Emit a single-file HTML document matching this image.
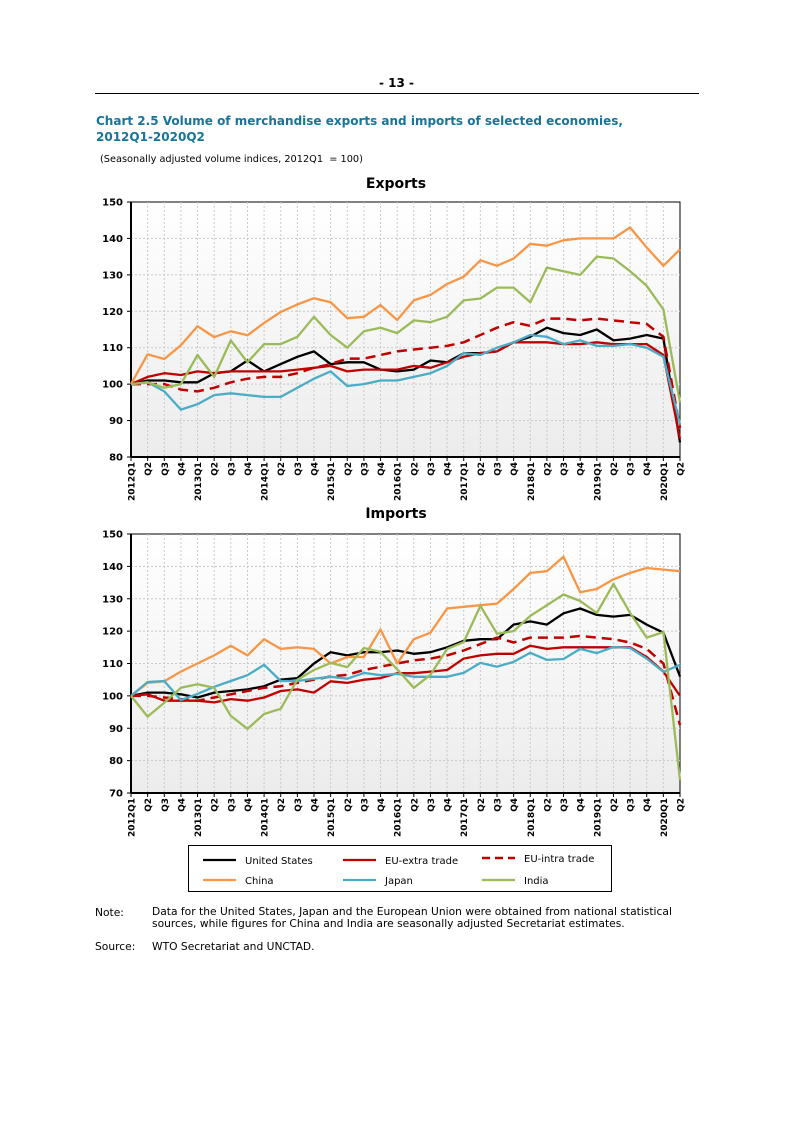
<!DOCTYPE html>
<html><head><meta charset="utf-8"><style>
body{margin:0;background:#fff;font-family:"DejaVu Sans","Liberation Sans",sans-serif;}
#wrap{position:relative;width:793px;height:1122px;overflow:hidden;}
.t{position:absolute;white-space:nowrap;}
</style></head><body>
<div id="wrap">
<div class="t" style="left:379px;top:76px;font-size:12px;font-weight:bold;">- 13 -</div>
<div style="position:absolute;left:95px;top:93px;width:604px;height:1px;background:#000;"></div>
<div class="t" style="left:96px;top:113px;font-size:12px;font-weight:bold;color:#17749a;line-height:16px;">Chart 2.5 Volume of merchandise exports and imports of selected economies,<br>2012Q1-2020Q2</div>
<div class="t" style="left:100px;top:154px;font-size:9.75px;">(Seasonally adjusted volume indices, 2012Q1 &nbsp;= 100)</div>
<svg id="svg" width="793" height="1122" style="position:absolute;left:0;top:0">
<defs><linearGradient id="bg" x1="0" y1="0" x2="0" y2="1"><stop offset="0" stop-color="#ffffff"/><stop offset="1" stop-color="#ececec"/></linearGradient></defs>
</svg>
<div style="position:absolute;left:188px;top:845px;width:422px;height:45px;border:1px solid #000;"></div>
<div class="t" style="left:95px;top:906px;font-size:10.7px;">Note:</div>
<div class="t" style="left:152px;top:906px;font-size:10.7px;line-height:12px;">Data for the United States, Japan and the European Union were obtained from national statistical<br>sources, while figures for China and India are seasonally adjusted Secretariat estimates.</div>
<div class="t" style="left:95px;top:940px;font-size:10.7px;">Source:</div>
<div class="t" style="left:152px;top:940px;font-size:10.7px;">WTO Secretariat and UNCTAD.</div>
</div>
<script>
const categories=["2012Q1","Q2","Q3","Q4","2013Q1","Q2","Q3","Q4","2014Q1","Q2","Q3","Q4","2015Q1","Q2","Q3","Q4","2016Q1","Q2","Q3","Q4","2017Q1","Q2","Q3","Q4","2018Q1","Q2","Q3","Q4","2019Q1","Q2","Q3","Q4","2020Q1","Q2"];
const seriesNames=["United States","EU-extra trade","EU-intra trade","China","Japan","India"];
const expUS=[100,101,101,100.5,100.5,103,103.5,106.5,103.5,105.5,107.5,109,105.5,106,106,104,103.5,104,106.5,106,108.5,108.5,109,111.5,113,115.5,114,113.5,115,112,112.5,113.5,112.5,84];
const expEUx=[100,102,103,102.5,103.5,103,103.5,103.5,103.5,103.5,104,104.5,105,103.5,104,104,104,105,104.5,106,107.5,108.5,109,111.5,111.5,111.5,111,111,111.5,111,111,111,108,85];
const expEUi=[100,100,100,98.5,98,99,100.5,101.5,102,102,103,104.5,105.5,107,107,108,109,109.5,110,110.5,111.5,113.5,115.5,117,116,118,118,117.5,118,117.5,117,116.5,113,88];
const expCN=[100,108.2,106.9,110.7,115.9,112.9,114.5,113.4,116.8,119.8,121.9,123.6,122.5,118.1,118.5,121.7,117.6,123,124.5,127.5,129.5,134,132.5,134.5,138.5,138,139.5,140,140,140,143,137.5,132.5,137];
const expJP=[100,100.5,98,93,94.5,97,97.5,97,96.5,96.5,99,101.5,103.5,99.5,100,101,101,102,103,105,108.5,108,110,111.5,113.5,113,111,112,110.5,110.5,111,110,107.5,89];
const expIN=[100,100.5,99,100,108,102,112,106,111,111,113,118.5,113.5,110,114.5,115.5,114,117.5,117,118.5,123,123.5,126.5,126.5,122.5,132,131,130,135,134.5,131,127,120.5,95];
const impUS=[100,101,101,100.5,99.5,101,101.5,102,103,105,105.5,110,113.5,112.5,113.5,113.5,114,113,113.5,115,117,117.5,117.5,122,123,122,125.5,127,125,124.5,125,122,119.5,106];
const impEUx=[100,100.5,98.5,98.5,98.5,98,99,98.5,99.5,101.5,102,101,104.5,104,105,105.5,107,107,107.5,108,111.5,112.5,113,113,115.5,114.5,115,115,115,115,115,112,107.5,100];
const impEUi=[100,100,99.5,99,98.5,99.5,100.5,101.5,102.5,103,104,105,106,106.5,108,109,110,111,111.5,112.5,114,116,118,116.5,118,118,118,118.5,118,117.5,116.5,114.5,110,91];
const impCN=[100,104,104.5,107.5,110,112.5,115.5,112.5,117.5,114.5,115,114.5,110,112,112,120.5,110,117.5,119.5,127,127.5,128,128.5,133,138,138.5,143,132,133,136,138,139.5,139,138.5];
const impJP=[100,104.3,104.6,98.7,100.6,102.8,104.6,106.4,109.6,104.6,104.6,105.3,105.9,105.3,107.1,106.4,106.8,105.9,105.9,105.9,107.1,110.2,109,110.5,113.3,111.1,111.4,114.5,113.2,115.1,114.8,111.5,107.4,109.6];
const impIN=[100,93.6,97.9,102.5,103.6,102.5,93.8,89.8,94.4,96,105,108,110.2,108.9,114.8,113.6,108.2,102.5,106.5,114.5,116.6,127.8,119.2,120,124.7,128,131.3,129.3,125.6,134.6,125.6,118,119.7,74];
const expTicks=[80,90,100,110,120,130,140,150];
const impTicks=[70,80,90,100,110,120,130,140,150];

const NS="http://www.w3.org/2000/svg";
const svg=document.getElementById('svg');
function el(t,a,p){const e=document.createElementNS(NS,t);for(const k in a)e.setAttribute(k,a[k]);(p||svg).appendChild(e);return e;}
const colors=["#000000","#c00000","#c00000","#f79646","#4bacc6","#9bbb59"];
const dashes=[null,null,"10,6",null,null,null];
function chart(name,title,titleY,top,bottom,min,max,ticks,data){
  const L=131,R=680;
  const g=el('g',{});
  
  
  const x=i=>L+i*(R-L)/(categories.length-1);
  const y=v=>bottom-(v-min)*(bottom-top)/(max-min);
  const tt=el('text',{x:396,y:titleY,'font-size':14,'font-weight':'bold','text-anchor':'middle','font-family':'DejaVu Sans, sans-serif'},g);
  tt.textContent=title;
  
  
  const bg=el('rect',{x:L,y:top,width:R-L,height:bottom-top,fill:'url(#bg)',stroke:'#000','stroke-width':1},g);
  
  
  categories.forEach((c,i)=>{
    if(i>0&&i<categories.length-1){const gl=el('line',{x1:x(i),x2:x(i),y1:top,y2:bottom,stroke:'#c8c8c8','stroke-dasharray':'2,2'},g);
    
    }
    el('line',{x1:x(i),x2:x(i),y1:bottom,y2:bottom+4,stroke:'#000'},g);
    const t=el('text',{x:0,y:0,'font-size':9,'font-weight':'bold','text-anchor':'end',transform:`translate(${x(i)+3.5},${bottom+5}) rotate(-90)`},g);
    t.textContent=c;
    
    
  });
  ticks.forEach(v=>{
    if(v>min&&v<max){const gl=el('line',{x1:L,x2:R,y1:y(v),y2:y(v),stroke:'#c8c8c8','stroke-dasharray':'2,2'},g);
    
    }
    el('line',{x1:L-4,x2:L,y1:y(v),y2:y(v),stroke:'#000'},g);
    const t=el('text',{x:L-8,y:y(v)+3.5,'font-size':10,'font-weight':'bold','text-anchor':'end'},g);
    t.textContent=v;
    
    
  });
  el('line',{x1:L,x2:L,y1:top,y2:bottom,stroke:'#000','stroke-width':2},g);
  el('line',{x1:L,x2:R,y1:bottom,y2:bottom,stroke:'#000','stroke-width':2},g);
  data.forEach((s,k)=>{
    const a={points:s.map((v,i)=>x(i).toFixed(1)+','+y(v).toFixed(1)).join(' '),fill:'none',stroke:colors[k],'stroke-width':2.3,'stroke-linejoin':'round'};
    if(dashes[k]){a['stroke-dasharray']=dashes[k];a['stroke-width']=2.5;}
    const p=el('polyline',a,g);
    
    
  });
}
chart('exports','Exports',188,202,457,80,150,expTicks,[expUS,expEUx,expEUi,expCN,expJP,expIN]);
chart('imports','Imports',518,534,793,70,150,impTicks,[impUS,impEUx,impEUi,impCN,impJP,impIN]);
const lg=[[203,860,0],[343,860,1],[482,858,2],[203,880,3],[343,880,4],[482,880,5]];
lg.forEach(([lx,ly,k])=>{
  const a={x1:lx,x2:lx+33,y1:ly,y2:ly,stroke:colors[k],'stroke-width':2.3};
  if(dashes[k]){a['stroke-dasharray']='8,5';a['stroke-width']=2.5;}
  const ln=el('line',a);
  
  
  const t=el('text',{x:lx+42,y:ly+4,'font-size':10});
  t.textContent=seriesNames[k];
  
  
});
</script>
</body></html>
